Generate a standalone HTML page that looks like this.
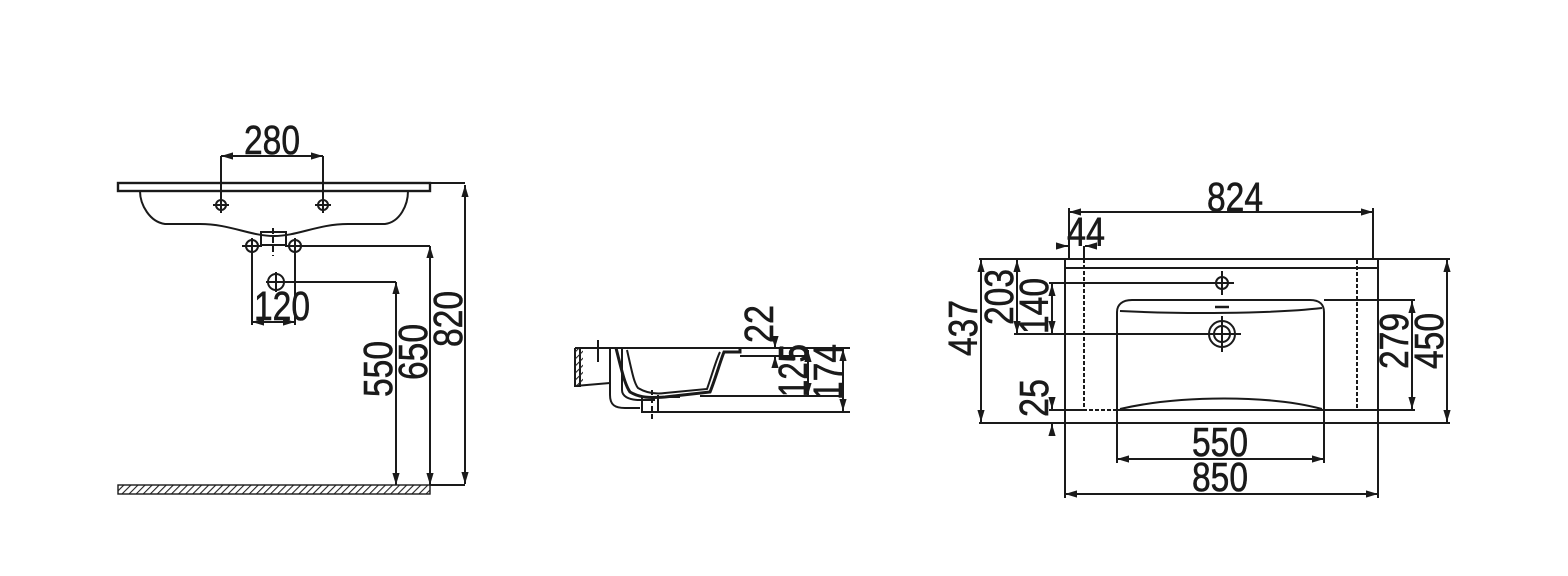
<!DOCTYPE html>
<html><head><meta charset="utf-8"><style>
html,body{margin:0;padding:0;background:#fff}
svg{display:block}
text{font-family:"Liberation Sans Narrow","Liberation Sans",sans-serif;font-size:41px;fill:#1a1a1a;stroke:#1a1a1a;stroke-width:0.6}
</style></head><body>
<svg width="1568" height="576" viewBox="0 0 1568 576" xmlns="http://www.w3.org/2000/svg">
<defs>
<marker id="a" viewBox="0 0 10 10" refX="10" refY="5" markerWidth="6" markerHeight="6" orient="auto-start-reverse"><path d="M0,2 L10,5 L0,8z" fill="#1a1a1a"/></marker>
<pattern id="h" width="5" height="5" patternUnits="userSpaceOnUse" patternTransform="rotate(45)"><line x1="0" y1="0" x2="0" y2="5" stroke="#222" stroke-width="2.2"/></pattern>
</defs>
<g stroke="#1a1a1a" stroke-width="2" fill="none">
<!-- LEFT VIEW -->
<rect x="118" y="183" width="312" height="8" stroke-width="2.4"/>
<path d="M140,191 C140,205 150,222 165,224 L200,224 C230,224 250,236 274,236 C298,236 318,224 348,224 L385,224 C400,222 408,205 408,191"/>
<rect x="261" y="232" width="25" height="13"/>
<line x1="273" y1="228" x2="273" y2="256" stroke-dasharray="6,3"/>
<circle cx="221" cy="205" r="5"/><path d="M213,205h16M221,197v16"/>
<circle cx="323" cy="205" r="5"/><path d="M315,205h16M323,197v16"/>
<circle cx="252" cy="246" r="6"/><path d="M242,246h20M252,238v16"/>
<circle cx="295" cy="246" r="6"/><path d="M285,246h20M295,238v16"/>
<circle cx="276" cy="282" r="8"/><path d="M266,282h20M276,272v20"/>
<path d="M221,205V156M323,205V156"/>
<line x1="221" y1="156" x2="323" y2="156" marker-start="url(#a)" marker-end="url(#a)"/>
<path d="M252,246V325M295,246V325"/>
<line x1="252" y1="322" x2="295" y2="322" marker-start="url(#a)" marker-end="url(#a)"/>
<path d="M284,282H396M301,246H430M430,183H465"/>
<line x1="396" y1="282" x2="396" y2="485" marker-start="url(#a)" marker-end="url(#a)"/>
<line x1="430" y1="246" x2="430" y2="485" marker-start="url(#a)" marker-end="url(#a)"/>
<line x1="465" y1="185" x2="465" y2="484" marker-start="url(#a)" marker-end="url(#a)"/>
<path d="M430,485H465"/>
<rect x="118" y="485" width="312" height="9" fill="url(#h)" stroke-width="1.4"/>
<!-- MIDDLE VIEW -->
<path d="M575,348H850M575,348V386H580V348M575,386L610,383"/>
<rect x="575" y="348" width="8" height="38" fill="url(#h)" stroke="none"/>
<path d="M598,340V362M610,348V395C610,405 615,408 625,408H640M622,348V390C622,396 628,400 640,400H655"/>
<path d="M616,348C622,372 625,385 630,392C640,398 650,398 665,397L710,392C715,380 720,362 724,352L740,352V348" stroke-width="3"/>
<path d="M627,350C632,372 634,383 638,388C648,394 658,394 665,393L707,389C712,375 716,360 720,352"/>
<path d="M642,397H658V412H642V397M664,397H680M658,395V412M642,412H850M700,396H843M740,356H808"/>
<line x1="652" y1="390" x2="652" y2="422" stroke-dasharray="5,3"/>
<line x1="808" y1="350" x2="808" y2="395" marker-start="url(#a)" marker-end="url(#a)"/>
<line x1="843" y1="349" x2="843" y2="411" marker-start="url(#a)" marker-end="url(#a)"/>
<line x1="775" y1="340" x2="775" y2="348" marker-end="url(#a)"/>
<line x1="775" y1="364" x2="775" y2="356" marker-end="url(#a)"/>
<!-- RIGHT VIEW -->
<rect x="1065" y="259" width="313" height="164"/>
<path d="M1065,268H1378"/>
<path d="M1084,259V410H1357V259" stroke-dasharray="4,2"/>
<path d="M1117,423V312C1117,305 1122,300 1132,300H1310C1320,300 1324,305 1324,312V423"/>
<path d="M1120,311C1180,314 1270,314 1322,308"/>
<path d="M1120,409C1180,395 1270,395 1322,409"/>
<path d="M1118,410H1324"/>
<path d="M1215,307h14" stroke-width="2.5"/>
<circle cx="1222" cy="283" r="6"/><path d="M1210,283h24M1222,271v24"/>
<circle cx="1222" cy="334" r="13"/><circle cx="1222" cy="334" r="8"/><path d="M1205,334h36M1222,316v36"/>
<path d="M1069,259V208M1373,259V208"/>
<line x1="1069" y1="212" x2="1373" y2="212" marker-start="url(#a)" marker-end="url(#a)"/>
<path d="M1084,246V259"/>
<line x1="1057" y1="246" x2="1068" y2="246" marker-end="url(#a)"/>
<line x1="1096" y1="246" x2="1085" y2="246" marker-end="url(#a)"/>
<path d="M979,259H1065M979,423H1065M1014,259H1065M1014,334H1210M1049,283H1210M1049,410H1084M1324,300H1415M1324,410H1415M1378,259H1450M1378,423H1450"/>
<line x1="981" y1="260" x2="981" y2="422" marker-start="url(#a)" marker-end="url(#a)"/>
<line x1="1017" y1="260" x2="1017" y2="333" marker-start="url(#a)" marker-end="url(#a)"/>
<line x1="1052" y1="284" x2="1052" y2="333" marker-start="url(#a)" marker-end="url(#a)"/>
<line x1="1052" y1="398" x2="1052" y2="409" marker-end="url(#a)"/>
<line x1="1052" y1="435" x2="1052" y2="424" marker-end="url(#a)"/>
<line x1="1412" y1="301" x2="1412" y2="409" marker-start="url(#a)" marker-end="url(#a)"/>
<line x1="1447" y1="260" x2="1447" y2="422" marker-start="url(#a)" marker-end="url(#a)"/>
<path d="M1117,423V463M1324,423V463M1065,423V498M1378,423V498"/>
<line x1="1117" y1="459" x2="1324" y2="459" marker-start="url(#a)" marker-end="url(#a)"/>
<line x1="1065" y1="494" x2="1378" y2="494" marker-start="url(#a)" marker-end="url(#a)"/>
</g>
<g text-anchor="middle">
<text x="272" y="154" textLength="56" lengthAdjust="spacingAndGlyphs">280</text>
<text x="282" y="320" textLength="56" lengthAdjust="spacingAndGlyphs">120</text>
<text transform="translate(392,369) rotate(-90)" textLength="56" lengthAdjust="spacingAndGlyphs">550</text>
<text transform="translate(427,352) rotate(-90)" textLength="56" lengthAdjust="spacingAndGlyphs">650</text>
<text transform="translate(462,319) rotate(-90)" textLength="56" lengthAdjust="spacingAndGlyphs">820</text>
<text transform="translate(773,324) rotate(-90)" textLength="38" lengthAdjust="spacingAndGlyphs">22</text>
<text transform="translate(807,371) rotate(-90)" textLength="52" lengthAdjust="spacingAndGlyphs">125</text>
<text transform="translate(808,353) rotate(-90)" textLength="18" lengthAdjust="spacingAndGlyphs">5</text>
<text transform="translate(842,372) rotate(-90)" textLength="56" lengthAdjust="spacingAndGlyphs">174</text>
<text x="1235" y="211" textLength="56" lengthAdjust="spacingAndGlyphs">824</text>
<text x="1086" y="246" textLength="38" lengthAdjust="spacingAndGlyphs">44</text>
<text transform="translate(977,328) rotate(-90)" textLength="56" lengthAdjust="spacingAndGlyphs">437</text>
<text transform="translate(1013,297) rotate(-90)" textLength="56" lengthAdjust="spacingAndGlyphs">203</text>
<text transform="translate(1048,306) rotate(-90)" textLength="56" lengthAdjust="spacingAndGlyphs">140</text>
<text transform="translate(1048,398) rotate(-90)" textLength="38" lengthAdjust="spacingAndGlyphs">25</text>
<text transform="translate(1408,341) rotate(-90)" textLength="56" lengthAdjust="spacingAndGlyphs">279</text>
<text transform="translate(1443,341) rotate(-90)" textLength="56" lengthAdjust="spacingAndGlyphs">450</text>
<text x="1220" y="456" textLength="56" lengthAdjust="spacingAndGlyphs">550</text>
<text x="1220" y="491" textLength="56" lengthAdjust="spacingAndGlyphs">850</text>
</g>
</svg>
</body></html>
